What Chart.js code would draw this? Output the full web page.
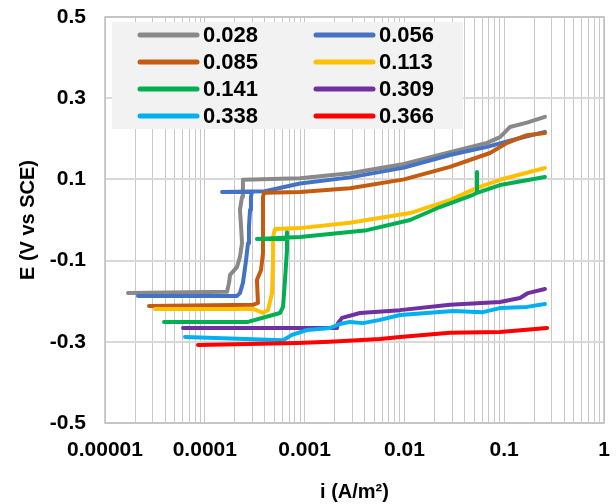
<!DOCTYPE html>
<html>
<head>
<meta charset="utf-8">
<script src="https://cdn.jsdelivr.net/npm/chart.js@4.4.1/dist/chart.umd.min.js"></script>
<style>
  html, body { margin: 0; padding: 0; background: #fff; }
</style>
</head>
<body>
<canvas id="chart" width="616" height="504"></canvas>
<script>
// legend labels and colours, one per curve
const seriesLabels = ['0.028', '0.056', '0.085', '0.113', '0.141', '0.309', '0.338', '0.366'];
const seriesColors = ['#898989', '#4472c4', '#c55a11', '#ffc000', '#00b050', '#7030a0', '#00b0f0', '#ff0000'];

// curves as [i (A/m2), E (V vs SCE)]
const s028 = [[1.70e-5, -0.180], [1.67e-4, -0.177], [1.75e-4, -0.155], [1.79e-4, -0.135], [2.10e-4, -0.116],
  [2.25e-4, -0.091], [2.36e-4, -0.057], [2.31e-4, -0.017], [2.25e-4, 0.025], [2.36e-4, 0.057], [2.41e-4, 0.099],
  [8.99e-4, 0.103], [2.85e-3, 0.115], [9.91e-3, 0.138], [2.86e-2, 0.167], [6.73e-2, 0.190], [9.08e-2, 0.204],
  [0.114, 0.229], [0.169, 0.240], [0.256, 0.254]];
const s056 = [[2.14e-5, -0.187], [2.10e-4, -0.187], [2.25e-4, -0.180], [2.41e-4, -0.155], [2.59e-4, -0.099],
  [2.71e-4, -0.057], [2.77e-4, -0.017], [2.84e-4, 0.025], [2.90e-4, 0.057], [2.97e-4, 0.069], [1.49e-4, 0.069],
  [4.0e-4, 0.071], [8.99e-4, 0.090], [2.85e-3, 0.105], [9.91e-3, 0.129], [2.86e-2, 0.160], [6.73e-2, 0.180],
  [0.144, 0.202], [0.256, 0.217]];
const s085 = [[2.76e-5, -0.212], [3.04e-4, -0.209], [3.41e-4, -0.204], [3.33e-4, -0.148], [3.66e-4, -0.123],
  [3.83e-4, -0.081], [3.83e-4, -0.032], [3.83e-4, 0.017], [3.83e-4, 0.057], [3.92e-4, 0.067], [8.99e-4, 0.069],
  [2.85e-3, 0.078], [9.91e-3, 0.100], [2.86e-2, 0.131], [7.21e-2, 0.165], [0.107, 0.190], [0.169, 0.209],
  [0.256, 0.214]];
const s113 = [[3.17e-5, -0.219], [3.04e-4, -0.219], [3.83e-4, -0.229], [4.30e-4, -0.222], [4.71e-4, -0.180],
  [4.83e-4, -0.099], [4.83e-4, -0.042], [5.05e-4, -0.022], [8.99e-4, -0.020], [2.85e-3, -0.007], [1.14e-2, 0.017],
  [2.86e-2, 0.049], [5.34e-2, 0.079], [9.08e-2, 0.099], [0.256, 0.128]];
const s141 = [[3.90e-5, -0.251], [2.71e-4, -0.251], [5.67e-4, -0.229], [6.08e-4, -0.214], [6.36e-4, -0.148],
  [6.66e-4, -0.074], [6.66e-4, -0.030], [6.66e-4, -0.047], [3.33e-4, -0.047], [8.99e-4, -0.042], [4.22e-3, -0.025],
  [1.14e-2, 0.000], [2.27e-2, 0.032], [4.87e-2, 0.062], [5.34e-2, 0.067], [5.34e-2, 0.118], [5.34e-2, 0.067],
  [9.08e-2, 0.086], [0.256, 0.106]];
const s309 = [[6.05e-5, -0.266], [2.11e-3, -0.266], [2.16e-3, -0.254], [2.37e-3, -0.241], [3.59e-3, -0.229],
  [9.04e-3, -0.222], [2.86e-2, -0.209], [9.08e-2, -0.202], [0.144, -0.192], [0.173, -0.180], [0.256, -0.170]];
const s338 = [[6.33e-5, -0.288], [6.08e-4, -0.296], [7.47e-4, -0.283], [1.06e-3, -0.271], [1.80e-3, -0.266],
  [2.26e-3, -0.256], [2.85e-3, -0.251], [3.85e-3, -0.254], [5.69e-3, -0.246], [9.04e-3, -0.234], [3.07e-2, -0.224],
  [6.13e-2, -0.227], [9.08e-2, -0.217], [0.169, -0.214], [0.256, -0.207]];
const s366 = [[8.55e-5, -0.308], [8.39e-4, -0.303], [1.80e-3, -0.300], [5.69e-3, -0.293], [9.04e-3, -0.288],
  [2.86e-2, -0.278], [9.08e-2, -0.276], [0.269, -0.266]];

const allSeries = [s028, s056, s085, s113, s141, s309, s338, s366];

// axis ticks
const xDecades = [0.00001, 0.0001, 0.001, 0.01, 0.1, 1];
const xTickLabels = ['0.00001', '0.0001', '0.001', '0.01', '0.1', '1'];
const yTicks = [-0.5, -0.3, -0.1, 0.1, 0.3, 0.5];

const FONT = "'Liberation Sans', Arial, sans-serif";

// log grid: every 1..9 step inside each decade
const xGrid = [];
xDecades.forEach((d, k) => {
    if (k === xDecades.length - 1) { xGrid.push(d); return; }
    for (let m = 1; m < 10; m++) xGrid.push(d * m);
});

const datasets = allSeries.map((s, idx) => ({
    label: seriesLabels[idx],
    data: s.map(p => ({ x: p[0], y: p[1] })),
    borderColor: seriesColors[idx],
    backgroundColor: seriesColors[idx],
    borderWidth: 4,
    borderCapStyle: 'round',
    borderJoinStyle: 'round',
    showLine: true,
    pointRadius: 0,
    tension: 0,
    order: allSeries.length - idx
}));

// frame around the plot area
const plotFrame = {
    id: 'plotFrame',
    beforeDatasetsDraw(chart) {
        const a = chart.chartArea;
        const ctx = chart.ctx;
        ctx.save();
        ctx.strokeStyle = '#bfbfbf';
        ctx.lineWidth = 1.5;
        ctx.strokeRect(a.left, a.top, a.right - a.left, a.bottom - a.top);
        ctx.restore();
    }
};

// grey legend box, two columns
const legendBox = {
    id: 'legendBox',
    afterDatasetsDraw(chart) {
        const a = chart.chartArea;
        const ctx = chart.ctx;
        const x0 = a.left + 7, y0 = a.top + 5;
        ctx.save();
        ctx.fillStyle = '#f2f2f2';
        ctx.fillRect(x0, y0, 351, 107);
        ctx.font = 'bold 22px ' + FONT;
        ctx.textBaseline = 'middle';
        ctx.lineCap = 'round';
        chart.data.datasets.forEach((ds, i) => {
            const col = i % 2, row = Math.floor(i / 2);
            const sx = x0 + 28 + col * 176;
            const sy = y0 + 13 + row * 27;
            ctx.strokeStyle = ds.borderColor;
            ctx.lineWidth = 5;
            ctx.beginPath();
            ctx.moveTo(sx, sy);
            ctx.lineTo(sx + 57, sy);
            ctx.stroke();
            ctx.fillStyle = '#000';
            ctx.fillText(ds.label, sx + 63, sy + 1);
        });
        ctx.restore();
    }
};

new Chart(document.getElementById('chart').getContext('2d'), {
    type: 'scatter',
    data: { datasets: datasets },
    options: {
        responsive: false,
        animation: false,
        devicePixelRatio: 1,
        layout: { padding: { top: 17, right: 12, bottom: 0, left: 0 } },
        plugins: { legend: { display: false }, tooltip: { enabled: false } },
        scales: {
            x: {
                type: 'logarithmic',
                min: 0.00001,
                max: 1,
                afterBuildTicks: s => { s.ticks = xGrid.map(v => ({ value: v })); },
                afterFit: s => { s.height = 81; s.paddingLeft = 0; s.paddingRight = 0; },
                grid: { color: '#c8c8c8', lineWidth: 1, drawTicks: false },
                border: { display: false },
                ticks: {
                    autoSkip: false,
                    maxRotation: 0,
                    minRotation: 0,
                    padding: 15,
                    color: '#000',
                    font: { family: FONT, size: 21, weight: 'bold' },
                    callback: v => {
                        const k = xDecades.indexOf(v);
                        return k >= 0 ? xTickLabels[k] : '';
                    }
                },
                title: {
                    display: true,
                    text: 'i (A/m²)',
                    color: '#000',
                    padding: { top: 6, bottom: 0 },
                    font: { family: FONT, size: 20, weight: 'bold' }
                }
            },
            y: {
                min: -0.5,
                max: 0.5,
                afterBuildTicks: s => { s.ticks = yTicks.map(v => ({ value: v })); },
                afterFit: s => { s.width = 105; s.paddingTop = 0; s.paddingBottom = 0; },
                grid: { color: '#d9d9d9', lineWidth: 2, drawTicks: false },
                border: { display: false },
                ticks: {
                    padding: 19,
                    color: '#000',
                    font: { family: FONT, size: 21, weight: 'bold' },
                    callback: v => v.toFixed(1)
                },
                title: {
                    display: true,
                    text: 'E (V vs SCE)',
                    color: '#000',
                    padding: { top: 16, bottom: 0 },
                    font: { family: FONT, size: 20, weight: 'bold' }
                }
            }
        }
    },
    plugins: [plotFrame, legendBox]
});
</script>
</body>
</html>
